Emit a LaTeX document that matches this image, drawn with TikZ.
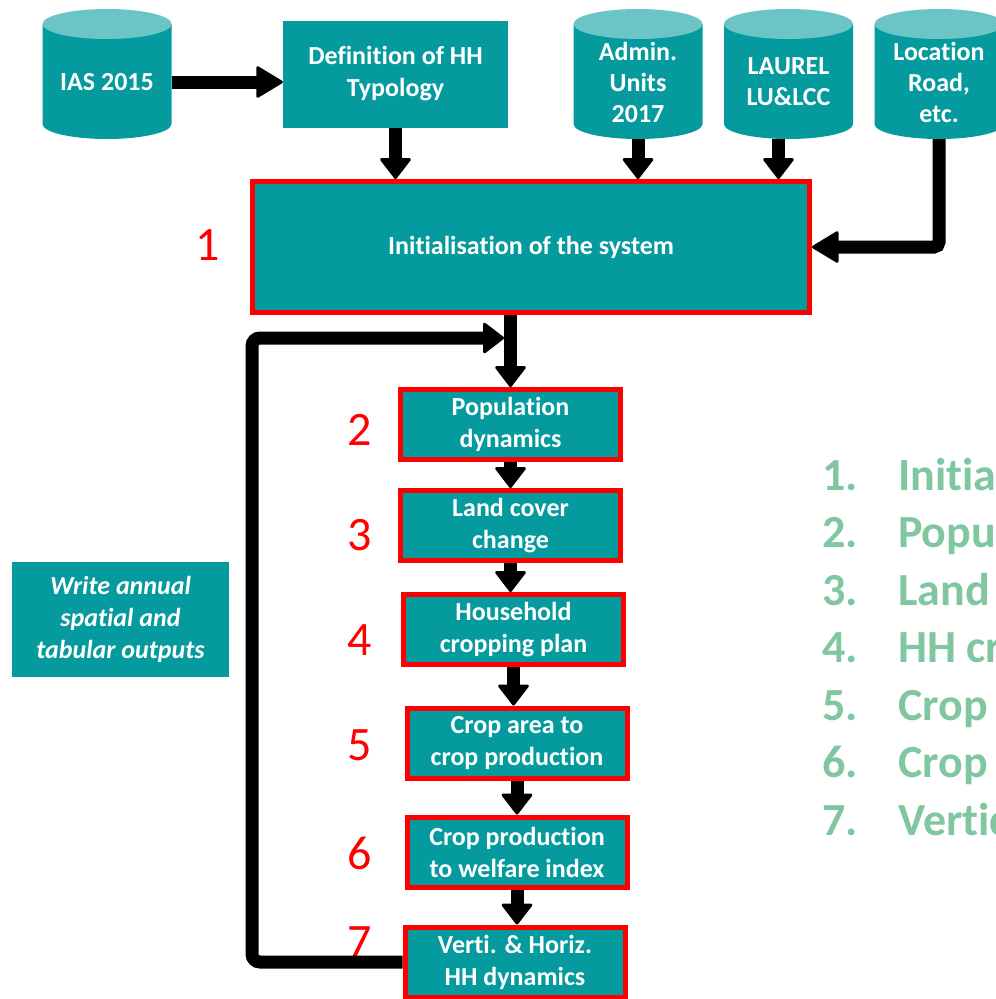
\documentclass[tikz,border=0pt]{standalone}
\usepackage{fontspec}
\setmainfont{Carlito}[Ligatures=NoCommon]
\usetikzlibrary{arrows.meta,calc}
\definecolor{teal1}{RGB}{5,155,158}
\definecolor{tealtop}{RGB}{107,196,198}
\definecolor{listgreen}{RGB}{128,199,160}
\definecolor{redb}{RGB}{255,0,0}
\newcommand{\dbcyl}[1]{%
  \fill[teal1] (#1,-24) ++(-64.5,0) -- ++(0,-100) arc[start angle=180,end angle=360,x radius=64.5pt,y radius=15pt] -- ++(0,100) -- cycle;
  \fill[tealtop] (#1,-24) ellipse[x radius=64.5pt, y radius=15pt];}
\tikzset{
  box/.style={fill=teal1, text=white, font=\bfseries\fontsize{26}{32}\selectfont, align=center, inner sep=0pt},
  stepbox/.style={box, draw=redb, line width=5pt, minimum width=220pt, minimum height=70pt},
  cyltext/.style={text=white, font=\bfseries\fontsize{26}{31}\selectfont, align=center, inner sep=0pt, minimum width=129pt, minimum height=114pt},
  link/.style={line width=13pt, draw=black, -{Triangle[width=33pt,length=22pt,round,line width=3pt]}},
  bigtip/.style={-{Triangle[width=33pt,length=28pt,round,line width=3pt]}},
  num/.style={text=redb, font=\fontsize{48}{48}\selectfont, inner sep=0pt},
  item/.style={text=listgreen, font=\bfseries\fontsize{46}{46}\selectfont, anchor=base west, inner sep=0pt},
}
\begin{document}
\begin{tikzpicture}[x=1pt,y=1pt]
\useasboundingbox (0,0) rectangle (996,-999);
\clip (0,0) rectangle (996,-999);
% cylinders
\dbcyl{107}
\dbcyl{638}
\dbcyl{788.5}
\dbcyl{939}
\node[cyltext] (ias) at (107,-82) {IAS 2015};
\node[cyltext] (admin) at (638,-82) {Admin.\\Units\\2017};
\node[cyltext] (laurel) at (788.5,-82) {LAUREL\\LU\&LCC};
\node[cyltext] (loc) at (939,-82) {Location\\Road,\\etc.};
% boxes
\node[box, minimum width=225pt, minimum height=107pt] (def) at (395.5,-74) {Definition of HH\\Typology};
\node[box, draw=redb, line width=5pt, minimum width=557pt, minimum height=131pt] (init) at (531,-247) {Initialisation of the system};
\node[stepbox] (p2) at (510.5,-424.5) {Population\\dynamics};
\node[stepbox] (p3) at (510.5,-525.5) {Land cover\\change};
\node[stepbox] (p4) at (513.5,-629.5) {Household\\cropping plan};
\node[stepbox] (p5) at (517,-743) {Crop area to\\crop production};
\node[stepbox] (p6) at (517,-852) {Crop production\\to welfare index};
\node[stepbox] (p7) at (515,-962) {Verti. \& Horiz.\\HH dynamics};
\node[box, font=\bfseries\itshape\fontsize{26}{32}\selectfont, minimum width=217pt, minimum height=115pt] (out) at (120.5,-619.5) {Write annual\\spatial and\\tabular outputs};
% red numbers
\node[num] (n1) at (208,-245) {1};
\node[num] (n2) at (360,-430) {2};
\node[num] (n3) at (360,-535) {3};
\node[num] (n4) at (360,-640) {4};
\node[num] (n5) at (360,-745) {5};
\node[num] (n6) at (360,-853) {6};
\node[num] (n7) at (360,-942) {7};
% list
\node[item] (l1) at (822,-490) {\makebox[76pt][l]{1.}Initia};
\node[item] (l2) at (822,-547.5) {\makebox[76pt][l]{2.}Popu};
\node[item] (l3) at (822,-605) {\makebox[76pt][l]{3.}Land};
\node[item] (l4) at (822,-662.5) {\makebox[76pt][l]{4.}HH cr};
\node[item] (l5) at (822,-720) {\makebox[76pt][l]{5.}Crop};
\node[item] (l6) at (822,-777.5) {\makebox[76pt][l]{6.}Crop};
\node[item] (l7) at (822,-835) {\makebox[76pt][l]{7.}Vertic};
% connectors
\draw[link, bigtip] (ias.east) -- (ias.east -| def.west);
\draw[link] (def.south) -- (def.south |- init.north);
\draw[link] (admin.south) -- (admin.south |- init.north);
\coordinate (lau) at ([xshift=-10pt]laurel.south);
\draw[link] (lau) -- (lau |- init.north);
\draw[link, bigtip, rounded corners=5pt] (loc.south) |- (init.east);
\draw[link] (init.south -| p2.north) -- (p2.north);
\draw[link] (p2.south) -- (p3.north);
\draw[link] (p3.south) -- (p3.south |- p4.north);
\draw[link] (p4.south) -- (p4.south |- p5.north);
\draw[link] (p5.south) -- (p5.south |- p6.north);
\draw[link] (p6.south) -- (p6.south |- p7.north);
\coordinate (lc) at (252,-338);
\coordinate (le) at (504,-338);
\draw[link, rounded corners=8pt] (p7.west) -| (lc) -- (le);
\end{tikzpicture}
\end{document}
